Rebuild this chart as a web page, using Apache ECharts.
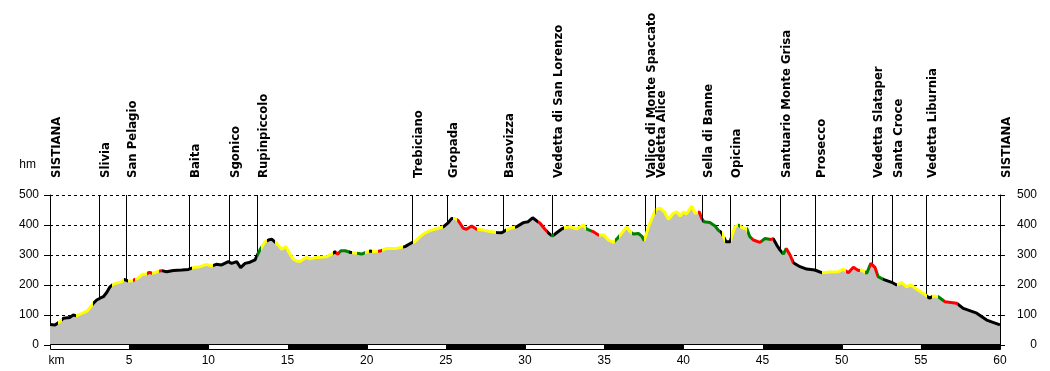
<!DOCTYPE html>
<html>
<head>
<meta charset="utf-8">
<script src="https://cdn.jsdelivr.net/npm/echarts@6/dist/echarts.min.js"></script>
<style>html,body{margin:0;padding:0;background:#fff;}#c{width:1050px;height:371px;}</style>
</head>
<body>
<div id="c"></div>
<script>
// ---- data ----
const km = [0,0.32,0.63,0.84,1.26,1.47,1.68,2.0,2.36,2.57,2.74,2.95,3.16,3.37,3.58,3.79,4.0,4.32,4.53,4.68,4.8,4.95,5.22,5.37,5.58,5.85,6.1,6.27,6.48,6.74,7.05,7.37,7.79,8.32,8.74,9.05,9.47,9.89,10.2,10.5,10.84,11.26,11.47,11.79,12.04,12.32,12.63,12.95,13.1,13.26,13.58,13.8,14.0,14.2,14.42,14.63,14.9,15.12,15.37,15.58,15.79,16.0,16.2,16.42,16.84,17.47,17.79,18.0,18.17,18.37,18.64,18.95,19.37,19.69,19.9,20.21,20.5,20.84,21.26,21.89,22.42,22.84,23.05,23.37,23.68,24.1,24.53,24.84,25.16,25.37,25.58,25.79,26.1,26.3,26.63,26.95,27.37,27.79,28.2,28.53,28.74,29.05,29.47,29.9,30.2,30.48,30.73,30.95,31.26,31.47,31.73,32.0,32.3,32.53,32.84,33.26,33.68,33.9,34.3,34.63,34.95,35.26,35.58,35.84,36.1,36.42,36.63,36.84,37.16,37.4,37.53,37.8,38.06,38.27,38.53,38.8,39.06,39.37,39.6,39.8,40.0,40.2,40.53,40.74,41.0,41.16,41.3,41.68,42.0,42.2,42.42,42.7,42.95,43.26,43.47,43.79,44.0,44.2,44.42,44.84,45.16,45.52,45.68,45.9,46.1,46.32,46.5,46.74,46.95,47.37,47.79,48.3,48.74,49.26,49.79,50.1,50.42,50.74,51.05,51.26,51.58,51.84,52.1,52.3,52.63,53.16,53.47,53.79,54.1,54.37,54.74,55.16,55.54,55.79,56.1,56.53,57.26,57.68,58.53,59.16,60.0];
const elev = [68,67,78,89,92,100,97,105,114,128,139,150,156,161,175,194,203,208,211,219,222,213,214,219,224,236,237,242,239,244,248,244,248,250,252,258,261,269,263,269,267,278,272,278,258,272,276,284,300,317,344,350,353,344,333,319,328,306,286,280,278,286,292,287,292,294,303,311,303,314,314,309,306,303,308,313,311,313,322,322,328,341,344,361,374,383,389,394,408,422,422,414,389,386,397,386,383,378,375,374,381,389,394,408,411,424,414,406,386,374,363,374,386,392,394,387,400,386,378,367,367,350,342,356,372,394,378,370,372,361,348,394,428,452,456,444,419,439,444,430,444,437,463,439,444,422,411,408,397,383,374,344,344,394,400,389,389,361,350,342,355,352,354,333,317,303,322,300,274,261,253,250,241,243,244,253,241,259,248,250,239,272,259,228,219,209,200,208,194,200,186,172,156,163,161,144,139,122,106,83,67];

// surface type changes: start km and type (k=black, y=yellow, r=red, g=green)
const surfKm   = [0,0.53,0.74,1.64,2.74,3.9,4.67,4.9,5.22,5.37,6.1,6.46,6.88,7.1,9.0,10.3,13.05,13.3,13.68,14.2,17.9,18.06,18.27,18.9,19.05,19.37,19.89,20.17,20.31,20.74,20.95,22.3,22.95,24.8,25.43,25.68,26.95,28.16,28.8,29.35,30.8,31.4,31.65,31.85,32.45,33.85,34.2,34.7,35.7,35.95,36.75,37.5,38.2,38.3,40.95,41.15,41.25,42.3,42.45,42.65,43.0,43.45,43.6,44.0,44.35,44.95,45.47,45.68,46.21,46.42,46.9,48.74,50.3,51.16,51.47,51.79,52.21,52.63,53.47,55.37,55.68,56.1,56.42,57.37];
const surfType = ['k','y','k','y','k','y','k','y','r','y','r','y','r','k','y','k','g','y','k','y','k','r','g','k','y','g','y','k','y','r','y','k','y','k','y','r','y','k','y','k','r','k','g','k','y','g','r','y','g','y','g','y','g','y','r','k','g','k','y','k','y','g','y','g','r','g','r','k','g','r','k','y','r','y','g','r','g','k','y','k','y','g','r','k'];
const surfColor = {k:'#000000', y:'#ffff00', r:'#ff0000', g:'#008000'};

const places = ['SISTIANA','Slivia','San Pelagio','Baita','Sgonico','Rupinpiccolo','Trebiciano','Gropada','Basovizza','Vedetta di San Lorenzo','Valico di Monte Spaccato','Vedetta Alice','Sella di Banne','Opicina','Santuario Monte Grisa','Prosecco','Vedetta Slataper','Santa Croce','Vedetta Liburnia','SISTIANA'];
const placeKm = [0,3.11,4.82,8.76,11.28,13.1,22.85,25.05,28.63,31.73,37.58,38.2,41.16,42.95,46.08,48.3,51.9,53.16,55.3,60];

const scaleBands = [0,5,10,15,20,25,30,35,40,45,50,55];
const xTicks = [0,5,10,15,20,25,30,35,40,45,50,55,60];
const yTicks = [0,100,200,300,400,500];

// ---- chart ----
const profile = km.map((k,i)=>[k, elev[i]]);
const pieces = surfKm.map((s,i)=>{
  const p = {gte: s, color: surfColor[surfType[i]]};
  if (i < surfKm.length-1) p.lt = surfKm[i+1]; else p.lte = 60;
  return p;
});

const chart = echarts.init(document.getElementById('c'));
const axisFont = {fontFamily:'Liberation Sans, Arial, sans-serif', fontSize:12, color:'#000'};
chart.setOption({
  animation:false,
  backgroundColor:'#fff',
  grid:{left:50, right:50, top:195, bottom:26},
  xAxis:{type:'value', min:0, max:60, interval:5,
    axisLine:{show:false}, axisTick:{show:false}, splitLine:{show:false},
    axisLabel:Object.assign({margin:10, formatter:v=> v===0 ? '{k|km}' : String(v),
      rich:{k:Object.assign({padding:[0,0,0,13]}, axisFont)}}, axisFont)},
  yAxis:[
    {type:'value', min:0, max:500, interval:100, position:'left',
     name:'hm', nameLocation:'end', nameGap:24,
     nameTextStyle:Object.assign({align:'right', padding:[0,14,0,0]}, axisFont),
     axisLine:{show:true, lineStyle:{color:'#000', width:1}},
     axisTick:{show:true, length:6, lineStyle:{color:'#000'}},
     axisLabel:Object.assign({margin:11}, axisFont),
     splitLine:{show:true, lineStyle:{color:'#000', type:[3,3], width:1}}},
    {type:'value', min:0, max:500, interval:100, position:'right',
     axisLine:{show:true, lineStyle:{color:'#000', width:1}},
     axisTick:{show:true, length:5, lineStyle:{color:'#000'}},
     axisLabel:Object.assign({margin:37, align:'right'}, axisFont),
     splitLine:{show:false}}
  ],
  visualMap:{type:'piecewise', show:false, dimension:0, seriesIndex:1, pieces:pieces},
  series:[
    {type:'line', data:profile, symbol:'none', z:2,
     lineStyle:{width:0, color:'#c0c0c0'}, areaStyle:{color:'#c0c0c0', opacity:1}},
    {type:'line', data:profile, symbol:'none', z:3, lineStyle:{width:3}},
    {type:'custom', z:1, clip:false, silent:true,
     data:placeKm.map(k=>[k,500]),
     renderItem:(params, api)=>{
       const p = api.coord([api.value(0), 500]);
       const b = api.coord([api.value(0), 0]);
       const x = Math.round(p[0]) + 0.5;
       return {type:'group', children:[
         {type:'line', shape:{x1:x, y1:p[1], x2:x, y2:b[1]}, style:{stroke:'#000', lineWidth:1}},
         {type:'text', x:x+6.5, y:p[1]-17, rotation:Math.PI/2,
          style:{text:places[params.dataIndex], fill:'#000', align:'left', verticalAlign:'middle',
                 font:'bold 13px "DejaVu Sans Condensed", "Liberation Sans Narrow", sans-serif'}}
       ]};
     }},
    {type:'custom', z:4, clip:false, silent:true,
     data:scaleBands.map(s=>[s, 0]),
     renderItem:(params, api)=>{
       const a = api.coord([api.value(0), 0]);
       const b = api.coord([api.value(0)+5, 0]);
       const black = params.dataIndex % 2 === 1;
       return {type:'rect', shape:{x:Math.round(a[0])+0.5, y:Math.round(a[1])-0.5, width:Math.round(b[0])-Math.round(a[0]), height:5},
         style:{fill: black ? '#000' : '#fff', stroke:'#000', lineWidth:1}};
     }}
  ]
});
</script>
</body>
</html>
